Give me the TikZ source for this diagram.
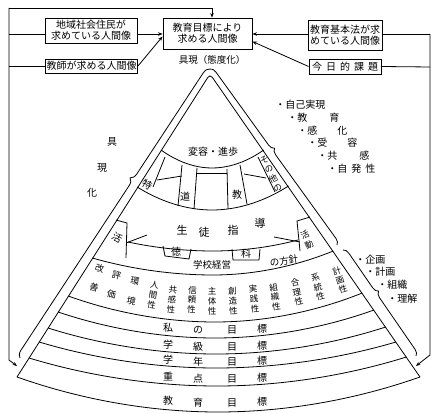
\documentclass[tikz,border=0pt]{standalone}
\usepackage{fontspec}
\newfontfamily\jp{Noto Sans CJK JP}
\usetikzlibrary{decorations.pathreplacing,arrows.meta,calc}
\begin{document}
\begin{tikzpicture}[x=1pt,y=-1pt,line width=0.8pt,
  box/.style={draw,line width=0.9pt,inner sep=1pt,align=center,font=\jp\fontsize{10}{11}\selectfont},
  lbl/.style={inner sep=0pt,font=\jp\fontsize{10}{10}\selectfont},
  col/.style={inner sep=0pt,align=center,font=\jp\fontsize{8.5}{9.8}\selectfont},
  col2/.style={inner sep=0pt,align=center,font=\jp\fontsize{9}{20}\selectfont},
  vcol/.style={inner sep=0pt,align=center,font=\jp\fontsize{8.5}{10.5}\selectfont},
  arr/.style={-{Stealth[length=4.5pt,width=3.5pt]}},
  brc/.style={decorate,decoration={brace,amplitude=6pt,aspect=#1}},
]
\useasboundingbox (0,0) rectangle (431,414);
% header boxes
\node[box,minimum width=92pt,minimum height=25pt] (b1) at (91,30.5) {地域社会住民が\\求めている人間像};
\node[box,minimum width=91pt,minimum height=14pt] (b2) at (91.5,66) {教師が求める人間像};
\node[box,minimum width=89pt,minimum height=31pt] (b3) at (207.5,33.5) {教育目標により\\求める人間像};
\node[box,minimum width=74pt,minimum height=30pt] (b4) at (345,35) {教育基本法が求\\めている人間像};
\node[box,minimum width=72pt,minimum height=15pt] (b5) at (345,66.5) {今\hspace{4pt}日\hspace{4pt}的\hspace{4pt}課\hspace{4pt}題};
\node[lbl,font=\jp\fontsize{9.5}{10}\selectfont] (gk) at (212,60) {具現（態度化）};
% connectors
\coordinate (tl) at (9,8); \coordinate (tr) at (212,8);
\coordinate (j1) at (9,34); \coordinate (j2) at (9,66);
\coordinate (lb) at (9,360); \coordinate (la) at (17,366);
\coordinate (r1) at (430,34); \coordinate (r2) at (430,67);
\coordinate (rb) at (430,355); \coordinate (ra) at (416,366);
\draw[arr] (tl) -- (tr) -- (tr |- b3.north);
\draw[arr] (tl) -- (lb) -- (la);
\draw (j1) -- (j1 -| b1.west);
\draw (j2) -- (b2.west);
\draw[arr] (b1.east |- j1) -- (b3.west |- j1);
\draw[arr] (b2.east) -- ($(b3.west)+(0,3)$);
\draw[arr] (b4.west |- r1) -- (b3.east |- r1);
\draw[arr] (b5.west) -- ($(b3.east)+(0,8)$);
\draw (b4.east |- r1) -- (r1);
\draw (b5.east) -- (r2);
\draw[arr] (r1) -- (rb) -- (ra);
% outer braces
\coordinate (ap) at (210,69);
\coordinate (lbE) at (20,358);
\coordinate (rbE) at (337,245);
\coordinate (rl1) at (343,250);
\coordinate (rl2) at (416,356);
\draw[brc=0.61,decoration={amplitude=7pt}] (lbE) -- (ap);
\draw[brc=0.47] (ap) -- (rbE);
\draw[brc=0.42] (rl1) -- (rl2);
% inner sector
\coordinate (iA) at (210,74); \coordinate (iL) at (17,377); \coordinate (iR) at (420,377);
\draw[rounded corners=4pt] (iL) -- (iA) -- (iR);
\draw (iL) parabola bend (218,412) (iR);
% rows
\draw (68.2,296) parabola bend (215,322) (362.3,293);
\draw (58.1,312) parabola bend (215,338) (374,310);
\draw (48,328) parabola bend (216,354) (385.7,327);
\draw (39.1,342) parabola bend (216,368) (396,342);
\draw (29,358) parabola bend (217,386) (406.4,357);
\draw (92.3,258) parabola bend (213,275) (333.3,251);
% band1
\draw (161,150) parabola bend (212,168) (263.7,150);
\draw (137.2,187) parabola bend (212,210) (288.5,186);
\draw (165,157) -- (153,187);
\draw (157,180) -- (182,176);
\draw (182,165) -- (178,206);
\draw (197,168) -- (194,209);
\draw (197,173) -- (227,173);
\draw (227,169) -- (228,209);
\draw (240,165) -- (247,204);
\draw (244,174) -- (266,178);
\draw (258,157) -- (275,192);
% band2
\draw (128,242) parabola bend (213,251) (298,240);
\draw (116,220) -- (127,223) -- (126,258);
\draw (126,243) -- (147,235);
\draw (310,217) -- (297,221) -- (300,251);
\draw (300,242) -- (274,237);
% tabs
\draw (163,246) -- (165,256) -- (189,259) -- (191,249);
\draw (232,249) -- (233,260) -- (259,260) -- (260,249);
% texts upper
\node[lbl] (t0) at (213,152) {変容・進歩};
\node[lbl,rotate=-30] (t1) at (147,185) {特};
\node[lbl] (t2) at (185,197) {道};
\node[lbl] (t3) at (237,195) {教};
\node[vcol,rotate=25] (t4) at (271,174) {そ\\の\\他\\の};
\node[lbl,rotate=-30] (t5) at (117,238) {活};
\node[vcol,rotate=25] (t6) at (307,240) {活\\動};
\node[lbl,font=\jp\fontsize{11}{11}\selectfont] at (182,230) {生};
\node[lbl,font=\jp\fontsize{11}{11}\selectfont] at (204,232) {徒};
\node[lbl,font=\jp\fontsize{11}{11}\selectfont] at (233,230) {指};
\node[lbl,font=\jp\fontsize{11}{11}\selectfont] at (260,223) {導};
\node[lbl] (t7) at (176,252) {徳};
\node[lbl] (t8) at (246,254) {科};
\node[lbl,font=\jp\fontsize{9.5}{10}\selectfont] (t9) at (212,265) {学校経営};
\node[lbl,font=\jp\fontsize{9.5}{10}\selectfont,rotate=8] (t10) at (284,261) {の方針};
% value columns
\node[col2,rotate=-16] at (97,278) {改\\善};
\node[col2,rotate=-14] at (114,285) {評\\価};
\node[col2,rotate=-11] at (133,291) {環\\境};
\node[col,rotate=-9] at (153,295) {人\\間\\性};
\node[col,rotate=-6] at (172,300) {共\\感\\性};
\node[col,rotate=-3] at (192,300) {信\\頼\\性};
\node[col] at (212,301) {主\\体\\性};
\node[col,rotate=3] at (233,301) {創\\造\\性};
\node[col,rotate=5.5] at (254,299) {実\\践\\性};
\node[col,rotate=8.5] at (275,297) {組\\織\\性};
\node[col,rotate=11.5] at (297,292) {合\\理\\性};
\node[col,rotate=14.5] at (318,287) {系\\統\\性};
\node[col,rotate=17.5] at (340,280) {計\\画\\性};
% goal rows
\foreach \a/\b/\c/\d/\y in {私/の/目/標/329, 学/級/目/標/346, 学/年/目/標/361, 重/点/目/標/378, 教/育/目/標/402}{
  \node[lbl] at (168,\y-1) {\a};
  \node[lbl] at (198,\y+1) {\b};
  \node[lbl] at (232,\y+1) {\c};
  \node[lbl] at (262,\y) {\d};
}
% side labels
\node[lbl] (g1) at (112,142) {具};
\node[lbl] (g2) at (102,168) {現};
\node[lbl] (g3) at (92,193) {化};
\node[lbl,anchor=west] (s1) at (275,105) {・自己実現};
\node[lbl,anchor=west] (s2) at (287,118) {・教\hspace{22pt}育};
\node[lbl,anchor=west] (s3) at (297,131) {・感\hspace{20pt}化};
\node[lbl,anchor=west] (s4) at (307,143) {・受\hspace{20pt}容};
\node[lbl,anchor=west] (s5) at (317,156) {・共\hspace{22pt}感};
\node[lbl,anchor=west] (s6) at (327,169) {・自\hspace{4pt}発\hspace{4pt}性};
\node[lbl,anchor=west] (q1) at (355,260) {・企画};
\node[lbl,anchor=west] (q2) at (365,272) {・計画};
\node[lbl,anchor=west] (q3) at (377,285) {・組織};
\node[lbl,anchor=west] (q4) at (387,299) {・理解};
\end{tikzpicture}
\end{document}
